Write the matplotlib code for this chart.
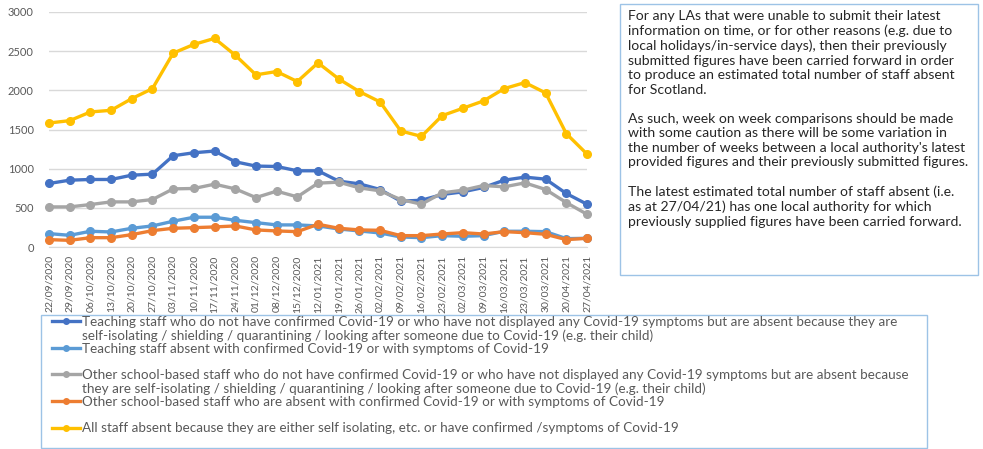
import matplotlib
matplotlib.use("Agg")
import matplotlib.pyplot as plt
from matplotlib.lines import Line2D
from matplotlib.patches import Rectangle

plt.rcParams['font.family'] = ['Lato', 'DejaVu Sans']

dates = ["22/09/2020", "29/09/2020", "06/10/2020", "13/10/2020", "20/10/2020", "27/10/2020",
         "03/11/2020", "10/11/2020", "17/11/2020", "24/11/2020", "01/12/2020", "08/12/2020",
         "15/12/2020", "12/01/2021", "19/01/2021", "26/01/2021", "02/02/2021", "09/02/2021",
         "16/02/2021", "23/02/2021", "02/03/2021", "09/03/2021", "16/03/2021", "23/03/2021",
         "30/03/2021", "20/04/2021", "27/04/2021"]

teaching_not_confirmed = [811, 853, 862, 862, 917, 930, 1165, 1203, 1225, 1088, 1033, 1028, 973, 973,
                          841, 806, 734, 585, 597, 670, 704, 760, 853, 892, 866, 683, 546]
teaching_confirmed = [171, 149, 201, 192, 239, 269, 329, 380, 380, 341, 311, 282, 282, 269,
                      230, 205, 179, 128, 119, 145, 137, 145, 201, 201, 196, 107, 111]
other_not_confirmed = [512, 512, 542, 576, 576, 606, 742, 747, 802, 742, 631, 713, 640, 815,
                       828, 755, 717, 606, 546, 691, 725, 785, 768, 819, 734, 567, 418]
other_confirmed = [94, 85, 119, 119, 158, 209, 239, 247, 256, 269, 218, 205, 196, 290,
                   239, 218, 213, 145, 145, 166, 183, 166, 196, 183, 162, 94, 111]
all_staff = [1583, 1613, 1724, 1745, 1894, 2022, 2475, 2586, 2663, 2449, 2198, 2240, 2112, 2351,
             2146, 1984, 1852, 1481, 1412, 1677, 1771, 1865, 2022, 2099, 1967, 1447, 1186]

labels = [
    "Teaching staff who do not have confirmed Covid-19 or who have not displayed any Covid-19 symptoms but are absent because they are",
    "self-isolating / shielding / quarantining / looking after someone due to Covid-19 (e.g. their child)",
    "Teaching staff absent with confirmed Covid-19 or with symptoms of Covid-19",
    "",
    "Other school-based staff who do not have confirmed Covid-19 or who have not displayed any Covid-19 symptoms but are absent because",
    "they are self-isolating / shielding / quarantining / looking after someone due to Covid-19 (e.g. their child)",
    "Other school-based staff who are absent with confirmed Covid-19 or with symptoms of Covid-19",
    "",
    "All staff absent because they are either self isolating, etc. or have confirmed /symptoms of Covid-19",
]

note = ("For any LAs that were unable to submit their latest\n"
        "information on time, or for other reasons (e.g. due to\n"
        "local holidays/in-service days), then their previously\n"
        "submitted figures have been carried forward in order\n"
        "to produce an estimated total number of staff absent\n"
        "for Scotland.\n"
        "\n"
        "As such, week on week comparisons should be made\n"
        "with some caution as there will be some variation in\n"
        "the number of weeks between a local authority's latest\n"
        "provided figures and their previously submitted figures.\n"
        "\n"
        "The latest estimated total number of staff absent (i.e.\n"
        "as at 27/04/21) has one local authority for which\n"
        "previously supplied figures have been carried forward.")

W, H = 983, 449
fig = plt.figure(figsize=(W / 100, H / 100), dpi=100)
ax = fig.add_axes([49 / W, 1 - 247 / H, 538 / W, 235 / H])

x = list(range(len(dates)))
series = [
    (teaching_not_confirmed, "#4472C4"),
    (teaching_confirmed, "#5B9BD5"),
    (other_not_confirmed, "#A5A5A5"),
    (other_confirmed, "#ED7D31"),
    (all_staff, "#FFC000"),
]
handles = []
for vals, col in series:
    ln, = ax.plot(x, vals, color=col, lw=2.4, marker='o', ms=5.5, clip_on=False, zorder=3)
    handles.append(ln)

ax.set_xlim(0, len(dates) - 1)
ax.set_ylim(0, 3000)
ax.set_yticks(range(0, 3001, 500))
ax.set_xticks(x)
ax.set_xticklabels(dates, rotation=90, fontsize=7.5, color="#595959")
ax.tick_params(axis='y', labelsize=8, colors="#595959", length=0, pad=11)
ax.tick_params(axis='x', length=0, pad=6)
ax.grid(axis='y', color="#D9D9D9", lw=1)
ax.set_axisbelow(True)
for s in ['top', 'right', 'left']:
    ax.spines[s].set_visible(False)
ax.spines['bottom'].set_color("#D9D9D9")

blank = Line2D([], [], linestyle='none')
leg_handles = [handles[0], blank, handles[1], blank, handles[2], blank, handles[3], blank, handles[4]]
leg = fig.legend(leg_handles, labels, loc='upper left', bbox_to_anchor=(52 / W, 1 - 316 / H),
                 frameon=False, fontsize=9.7, labelspacing=0.085, handlelength=2.1,
                 handletextpad=0.1, borderpad=0, borderaxespad=0, labelcolor="#595959")
for lh in leg.legend_handles:
    lh.set_markersize(4)

fig.patches.append(Rectangle((41 / W, 1 - 448 / H), (927 - 41) / W, (448 - 315) / H,
                             transform=fig.transFigure, fill=False, edgecolor="#9DC3E6", lw=1))
fig.patches.append(Rectangle((620 / W, 1 - 275 / H), (978 - 620) / W, (275 - 4) / H,
                             transform=fig.transFigure, fill=False, edgecolor="#9DC3E6", lw=1))
fig.text(628 / W, 1 - 10 / H, note, ha='left', va='top', fontsize=10.1, color="#262626", linespacing=1.25)

fig.savefig("out.png", dpi=100)
